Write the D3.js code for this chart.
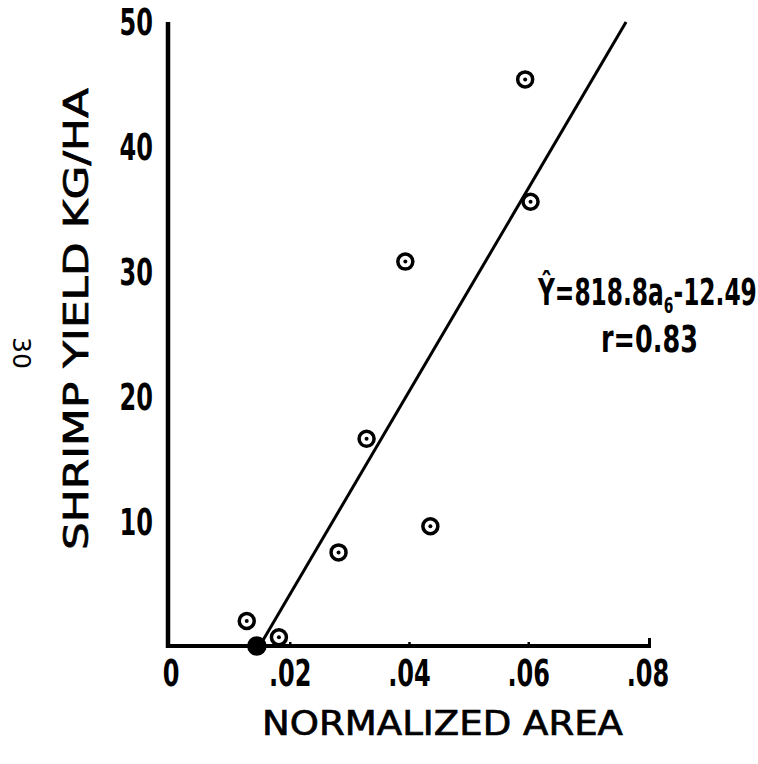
<!DOCTYPE html>
<html>
<head>
<meta charset="utf-8">
<script src="https://cdn.jsdelivr.net/npm/d3@7"></script>
<style>
  body { margin: 0; background: #fff; }
  text { fill: #000; }
  .num { font-family: "DejaVu Sans", sans-serif; font-weight: bold; font-size: 37px; }
  .title { font-family: "DejaVu Sans", sans-serif; font-size: 33px; stroke: #000; stroke-width: 0.7px; }
</style>
</head>
<body>
<div id="main"></div>
<script>
// normalized area (a6) vs shrimp yield
var area  = [0.0127, 0.0144, 0.0181, 0.0281, 0.0328, 0.0393, 0.0435, 0.0594, 0.0603];
var yield_ = [2.0, 0, 0.7, 7.5, 16.6, 30.8, 9.6, 45.4, 35.6];
var solid = [false, true, false, false, false, false, false, false, false];

var xTicks = [0, 0.02, 0.04, 0.06, 0.08];
var xTickLabels = ["0", ".02", ".04", ".06", ".08"];
var yTicks = [10, 20, 30, 40, 50];

// fitted line  Y = 818.8 a - 12.49
var slope = 818.8, intercept = -12.49;
var fitY = [0, 50];

var w = 758, h = 764,
	squeeze = 0.65; // lettering in the figure is narrow

var x = d3.scaleLinear().domain([0, 0.08]).range([171, 648]);
var y = d3.scaleLinear().domain([0, 50]).range([646, 22]);

var svg = d3.select("#main")
	.append("svg")
	.attr("width", w)
	.attr("height", h);

// axes
svg.append("line")
	.attr("x1", 168).attr("x2", 168)
	.attr("y1", y(50)).attr("y2", y(0) + 2)
	.attr("stroke", "#000").attr("stroke-width", 4.5);

svg.append("line")
	.attr("x1", 166).attr("x2", x(0.08) + 3)
	.attr("y1", y(0)).attr("y2", y(0))
	.attr("stroke", "#000").attr("stroke-width", 4);

// little tick bumps on the x axis
svg.selectAll(".xtick")
	.data(xTicks.slice(1))
	.enter()
	.append("line")
	.attr("class", "xtick")
	.attr("x1", d => x(d) + (d == 0.08 ? 1.5 : 0))
	.attr("x2", d => x(d) + (d == 0.08 ? 1.5 : 0))
	.attr("y1", y(0))
	.attr("y2", d => y(0) - (d == 0.08 ? 8 : 4))
	.attr("stroke", "#000")
	.attr("stroke-width", d => d == 0.08 ? 3 : 2.5);

svg.selectAll(".xlab")
	.data(xTicks)
	.enter()
	.append("text")
	.attr("class", "num")
	.attr("transform", d => "translate(" + x(d) + ",686) scale(" + squeeze + ",1)")
	.attr("text-anchor", "middle")
	.text((d, i) => xTickLabels[i]);

svg.selectAll(".ylab")
	.data(yTicks)
	.enter()
	.append("text")
	.attr("class", "num")
	.attr("transform", d => "translate(153," + y(d) + ") scale(" + squeeze + ",1)")
	.attr("dy", "0.36em")
	.attr("text-anchor", "end")
	.text(d => d);

// titles
svg.append("text")
	.attr("class", "title")
	.attr("x", 262)
	.attr("y", 735)
	.attr("textLength", 361)
	.attr("lengthAdjust", "spacingAndGlyphs")
	.text("NORMALIZED AREA");

svg.append("text")
	.attr("class", "title")
	.attr("transform", "translate(88,550) rotate(-90)")
	.attr("textLength", 462)
	.attr("lengthAdjust", "spacingAndGlyphs")
	.text("SHRIMP YIELD KG/HA");

// page number
svg.append("text")
	.attr("transform", "translate(13,337) rotate(90)")
	.style("font-family", "DejaVu Sans, sans-serif")
	.style("font-size", "25px")
	.text("30");

// regression line
svg.append("line")
	.attr("x1", x((fitY[0] - intercept) / slope))
	.attr("y1", y(fitY[0]) - 4)
	.attr("x2", x((fitY[1] - intercept) / slope))
	.attr("y2", y(fitY[1]))
	.attr("stroke", "#000")
	.attr("stroke-width", 3);

// points
var pts = svg.selectAll(".pt")
	.data(area)
	.enter()
	.append("g")
	.attr("class", "pt")
	.attr("transform", (d, i) => "translate(" + x(d) + "," + y(yield_[i]) + ")");

pts.append("circle")
	.attr("r", (d, i) => solid[i] ? 8 : 7.5)
	.attr("fill", (d, i) => solid[i] ? "#000" : "#fff")
	.attr("stroke", "#000")
	.attr("stroke-width", 3.5);

pts.filter((d, i) => !solid[i])
	.append("circle")
	.attr("r", 2)
	.attr("fill", "#000");

// equation
var eq = svg.append("text")
	.attr("class", "num")
	.attr("transform", "translate(538,305) scale(0.63,1)");
eq.append("tspan").text("\u0176=818.8a");
eq.append("tspan").attr("dy", 8).style("font-size", "22px").text("6");
eq.append("tspan").attr("dy", -8).text("-12.49");

svg.append("text")
	.attr("class", "num")
	.attr("transform", "translate(601,352) scale(0.69,1)")
	.text("r=0.83");
</script>
</body>
</html>
